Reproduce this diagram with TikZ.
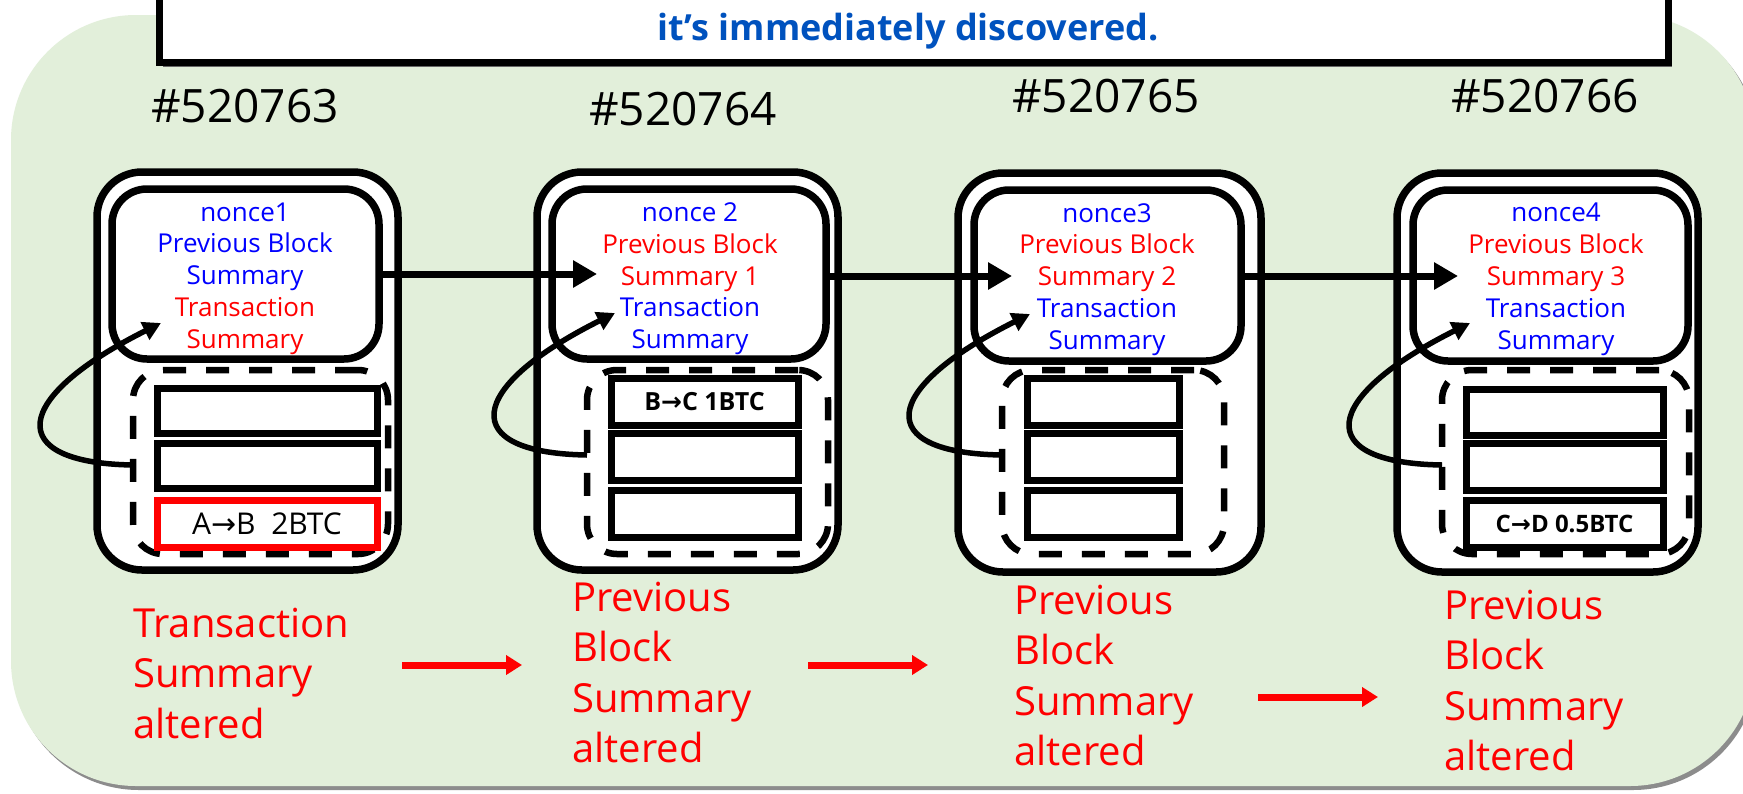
\documentclass[tikz,border=0pt]{standalone}
\usepackage{fontspec}
\setmainfont{Open Sans}
\newfontfamily\arrowfont{DejaVu Sans}
\usetikzlibrary{arrows.meta}
\definecolor{bggreen}{RGB}{226,239,218}
\definecolor{hotred}{RGB}{255,0,0}
\definecolor{pureblue}{RGB}{0,0,255}
\definecolor{titleblue}{RGB}{0,82,190}
\newcommand\rarr{{\arrowfont →}}
% \placebox{name}{style}{x1}{y1}{x2}{y2}{text}: rectangle node given by its corners
\newcommand\placebox[7]{%
  \node[#2, minimum width={#5-#3}, minimum height={#6-#4}] (#1) at ({(#3+#5)/2},{(#4+#6)/2}) {#7};}
\tikzset{
  blockframe/.style={draw, line width=7.5pt, fill=white, rounded corners=45pt, inner sep=0pt},
  headbox/.style={draw, line width=7.5pt, fill=white, rounded corners=35pt, inner sep=0pt},
  txgroup/.style={draw, line width=6.5pt, dash pattern=on 23pt off 20pt, rounded corners=30pt, inner sep=0pt},
  txrow/.style={draw, line width=7pt, fill=white, inner sep=0pt},
  chainarrow/.style={line width=7pt, -{Triangle[length=24pt,width=26pt]}},
  hasharrow/.style={line width=5.5pt, -{Triangle[length=18pt,width=19pt]}},
  alterarrow/.style={draw=hotred, line width=7pt, -{Triangle[length=16pt,width=19pt]}},
  headtext/.style={align=center, inner sep=0pt, font=\fontsize{26}{31.8}\selectfont, anchor=north},
  alttext/.style={align=left, inner sep=0pt, font=\fontsize{40}{50.5}\selectfont, text=hotred, anchor=north west},
  blocknum/.style={inner sep=0pt, font=\fontsize{46}{50}\selectfont, anchor=base},
}
\begin{document}
\begin{tikzpicture}[x=1pt,y=-1pt]
\useasboundingbox (0,0) rectangle (1743,793);
\clip (0,0) rectangle (1743,793);
\fill[white] (0,0) rectangle (1743,793);

% green panel with its shadow
\fill[black!45, rounded corners=125pt] (14,19) rectangle (1758,790);
\fill[bggreen, rounded corners=125pt] (11,15) rectangle (1755,786);

% title box
\fill[black!60] (163,-20) rectangle (1672,67);
\node[draw, line width=7pt, fill=white, inner sep=0pt, minimum width=1509pt, minimum height=82pt] (title) at (913.5,21) {};
\node[anchor=base, inner sep=0pt, text=titleblue, font=\bfseries\fontsize{36}{40}\selectfont] (titletext) at (908,40) {it’s immediately discovered.};

% block numbers
\node[blocknum] (n1) at (245,122) {\#520763};
\node[blocknum] (n2) at (683,125) {\#520764};
\node[blocknum] (n3) at (1106,112) {\#520765};
\node[blocknum] (n4) at (1545,112) {\#520766};

% block 1
\placebox{o1}{blockframe}{97}{172}{398}{570}{}
\placebox{h1}{headbox}{112}{189}{379}{359}{}
\placebox{d1}{txgroup}{133}{370}{388}{554}{}
\placebox{r11}{txrow}{157}{388}{377}{433}{}
\placebox{r12}{txrow}{157}{443}{377}{488}{}
\placebox{r13}{txrow, draw=hotred}{157}{500}{377}{547}{\fontsize{30}{32}\selectfont A\rarr B\ \ 2BTC}

% block 2
\placebox{o2}{blockframe}{537}{172}{838}{570}{}
\placebox{h2}{headbox}{552}{189}{826}{359}{}
\placebox{d2}{txgroup}{587}{370}{828}{554}{}
\placebox{r21}{txrow}{611}{378}{798}{425}{\bfseries\fontsize{25}{28}\selectfont B\rarr C 1BTC}
\placebox{r22}{txrow}{611}{433}{798}{480}{}
\placebox{r23}{txrow}{611}{490}{798}{537}{}

% block 3
\placebox{o3}{blockframe}{958}{173}{1261}{572}{}
\placebox{h3}{headbox}{974}{190}{1241}{361}{}
\placebox{d3}{txgroup}{1002}{370}{1224}{554}{}
\placebox{r31}{txrow}{1027}{378}{1179}{425}{}
\placebox{r32}{txrow}{1027}{433}{1179}{480}{}
\placebox{r33}{txrow}{1027}{490}{1179}{537}{}

% block 4
\placebox{o4}{blockframe}{1397}{173}{1698}{572}{}
\placebox{h4}{headbox}{1413}{190}{1688}{361}{}
\placebox{d4}{txgroup}{1442}{370}{1689}{554}{}
\placebox{r41}{txrow}{1466}{389}{1663}{435}{}
\placebox{r42}{txrow}{1466}{443}{1663}{490}{}
\placebox{r43}{txrow}{1466}{500}{1663}{547}{\bfseries\fontsize{24}{28}\selectfont C\rarr D 0.5BTC}

% header texts
\node[headtext] (ht1) at (245,202.4) {\textcolor{pureblue}{nonce1}\\ \textcolor{pureblue}{Previous Block}\\ \textcolor{pureblue}{Summary}\\ \textcolor{hotred}{Transaction}\\ \textcolor{hotred}{Summary}};
\node[headtext] (ht2) at (690,202.4) {\textcolor{pureblue}{nonce 2}\\ \textcolor{hotred}{Previous Block}\\ \textcolor{hotred}{Summary 1}\\ \textcolor{pureblue}{Transaction}\\ \textcolor{pureblue}{Summary}};
\node[headtext] (ht3) at (1107,203) {\textcolor{pureblue}{nonce3}\\ \textcolor{hotred}{Previous Block}\\ \textcolor{hotred}{Summary 2}\\ \textcolor{pureblue}{Transaction}\\ \textcolor{pureblue}{Summary}};
\node[headtext] (ht4) at (1556,203) {\textcolor{pureblue}{nonce4}\\ \textcolor{hotred}{Previous Block}\\ \textcolor{hotred}{Summary 3}\\ \textcolor{pureblue}{Transaction}\\ \textcolor{pureblue}{Summary}};

% arrow targets inside the next header
\coordinate (t2) at (597,274);
\coordinate (t3) at (1012,276);
\coordinate (t4) at (1458,276);
\draw[chainarrow] (h1.east) -- (t2);
\draw[chainarrow] (h2.east |- t3) -- (t3);
\draw[chainarrow] (h3.east |- t4) -- (t4);

% hashing loops from the transaction list back into the header
\coordinate (s1) at (133,465); \coordinate (e1) at (161,323);
\coordinate (s2) at (587,455); \coordinate (e2) at (615,313);
\coordinate (s3) at (1002,455); \coordinate (e3) at (1030,314);
\coordinate (s4) at (1442,465); \coordinate (e4) at (1470,323);
\foreach \k in {1,2,3,4}{
  \draw[hasharrow] (s\k) .. controls +(-130,-2) and +(-150,75) .. (e\k);
}

% alteration labels
\node[alttext] (a1) at (133,607.6) {Transaction\\Summary\\altered};
\node[alttext] (a2) at (572,581.6) {Previous\\Block\\Summary\\altered};
\node[alttext] (a3) at (1014,584.6) {Previous\\Block\\Summary\\altered};
\node[alttext] (a4) at (1444,589.6) {Previous\\Block\\Summary\\altered};

\coordinate (p1) at (402,665); \coordinate (q1) at (522,665);
\coordinate (p2) at (808,665); \coordinate (q2) at (928,665);
\coordinate (p3) at (1258,697); \coordinate (q3) at (1378,697);
\draw[alterarrow] (p1) -- (q1);
\draw[alterarrow] (p2) -- (q2);
\draw[alterarrow] (p3) -- (q3);
\end{tikzpicture}
\end{document}
